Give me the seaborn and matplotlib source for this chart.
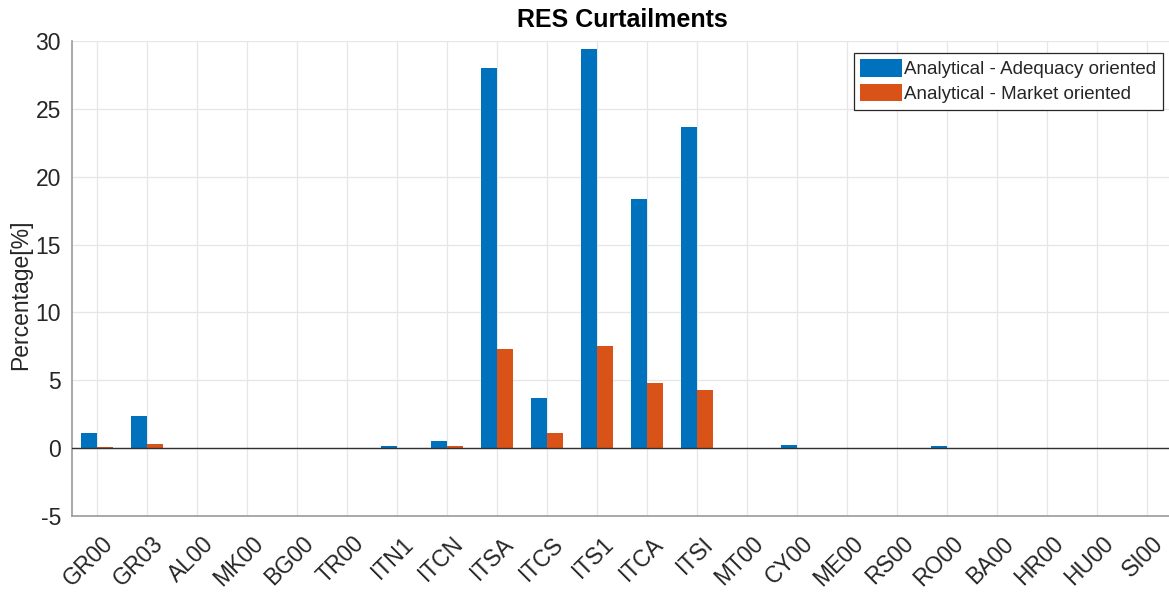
import matplotlib
matplotlib.use("Agg")
import matplotlib.pyplot as plt
import matplotlib.transforms as mtransforms
import seaborn as sns
import pandas as pd

categories = ["GR00", "GR03", "AL00", "MK00", "BG00", "TR00", "ITN1", "ITCN", "ITSA", "ITCS",
              "ITS1", "ITCA", "ITSI", "MT00", "CY00", "ME00", "RS00", "RO00", "BA00", "HR00",
              "HU00", "SI00"]
adequacy = [1.15, 2.4, 0.0, 0.0, 0.0, 0.0, 0.15, 0.54, 28.0, 3.73,
            29.4, 18.35, 23.7, 0.0, 0.22, 0.0, 0.0, 0.15, 0.0, 0.0,
            0.02, -0.03]
market = [0.05, 0.27, 0.0, 0.0, 0.0, 0.0, 0.02, 0.15, 7.3, 1.13,
          7.5, 4.8, 4.3, 0.0, 0.02, 0.0, 0.0, 0.02, 0.0, 0.0,
          0.0, 0.0]
series_names = ["Analytical - Adequacy oriented", "Analytical - Market oriented"]
yticks = [-5, 0, 5, 10, 15, 20, 25, 30]

df = pd.DataFrame({
    "Zone": categories * 2,
    "Value": adequacy + market,
    "Series": [series_names[0]] * len(categories) + [series_names[1]] * len(categories),
})

sns.set_style("white")
plt.rcParams["font.family"] = ["Liberation Sans", "DejaVu Sans"]

fig = plt.figure(figsize=(11.69, 5.92), dpi=100)
W, H = 1169, 592
ax = fig.add_axes([72 / W, 76 / H, (1172 - 72) / W, (516 - 41) / H])

sns.barplot(data=df, x="Zone", y="Value", hue="Series", order=categories,
            hue_order=series_names, palette=["#0072BD", "#D95319"],
            width=0.64, saturation=1, ax=ax, errorbar=None, linewidth=0)

ax.set_xlim(-0.5, len(categories) - 0.5)
ax.set_ylim(-5, 30)
ax.set_yticks(yticks)
ax.set_yticklabels([str(t) for t in yticks])
ax.axhline(0, color="#303030", lw=1.0, zorder=3)

ax.grid(True, color="#e6e6e6", lw=0.9)
ax.set_axisbelow(True)
for s in ["top", "right"]:
    ax.spines[s].set_visible(False)
for s in ["left", "bottom"]:
    ax.spines[s].set_color("#9a9a9a")
    ax.spines[s].set_linewidth(1.2)

ax.tick_params(axis="both", direction="in", length=8, width=0.9, color="#262626",
               labelsize=16.5, labelcolor="#262626")
ax.tick_params(axis="y", pad=8)
ax.tick_params(axis="x", pad=6)
offset = mtransforms.ScaledTranslation(13 / 100, -16 / 100, fig.dpi_scale_trans)
for lab in ax.get_xticklabels():
    lab.set_rotation(45)
    lab.set_ha("right")
    lab.set_va("center")
    lab.set_rotation_mode("anchor")
    lab.set_transform(lab.get_transform() + offset)

ax.set_xlabel("")
ax.set_ylabel("Percentage[%]", fontsize=16.5, color="#262626")
ax.yaxis.set_label_coords(-0.036, 0.465)
ax.set_title("RES Curtailments", fontsize=18, fontweight="bold", pad=10, color="black")

handles, labels = ax.get_legend_handles_labels()
leg = ax.legend(handles, labels, loc="upper right",
                bbox_to_anchor=(1163 / W, 1 - 52.7 / H), bbox_transform=fig.transFigure,
                borderaxespad=0, fontsize=13.5, frameon=True, fancybox=False,
                edgecolor="#262626", framealpha=1, handlelength=2.2, handleheight=1.05,
                handletextpad=0.15, borderpad=0.35, labelspacing=0.3, title=None)
leg.get_frame().set_linewidth(0.9)

fig.savefig("out.png", dpi=100)
